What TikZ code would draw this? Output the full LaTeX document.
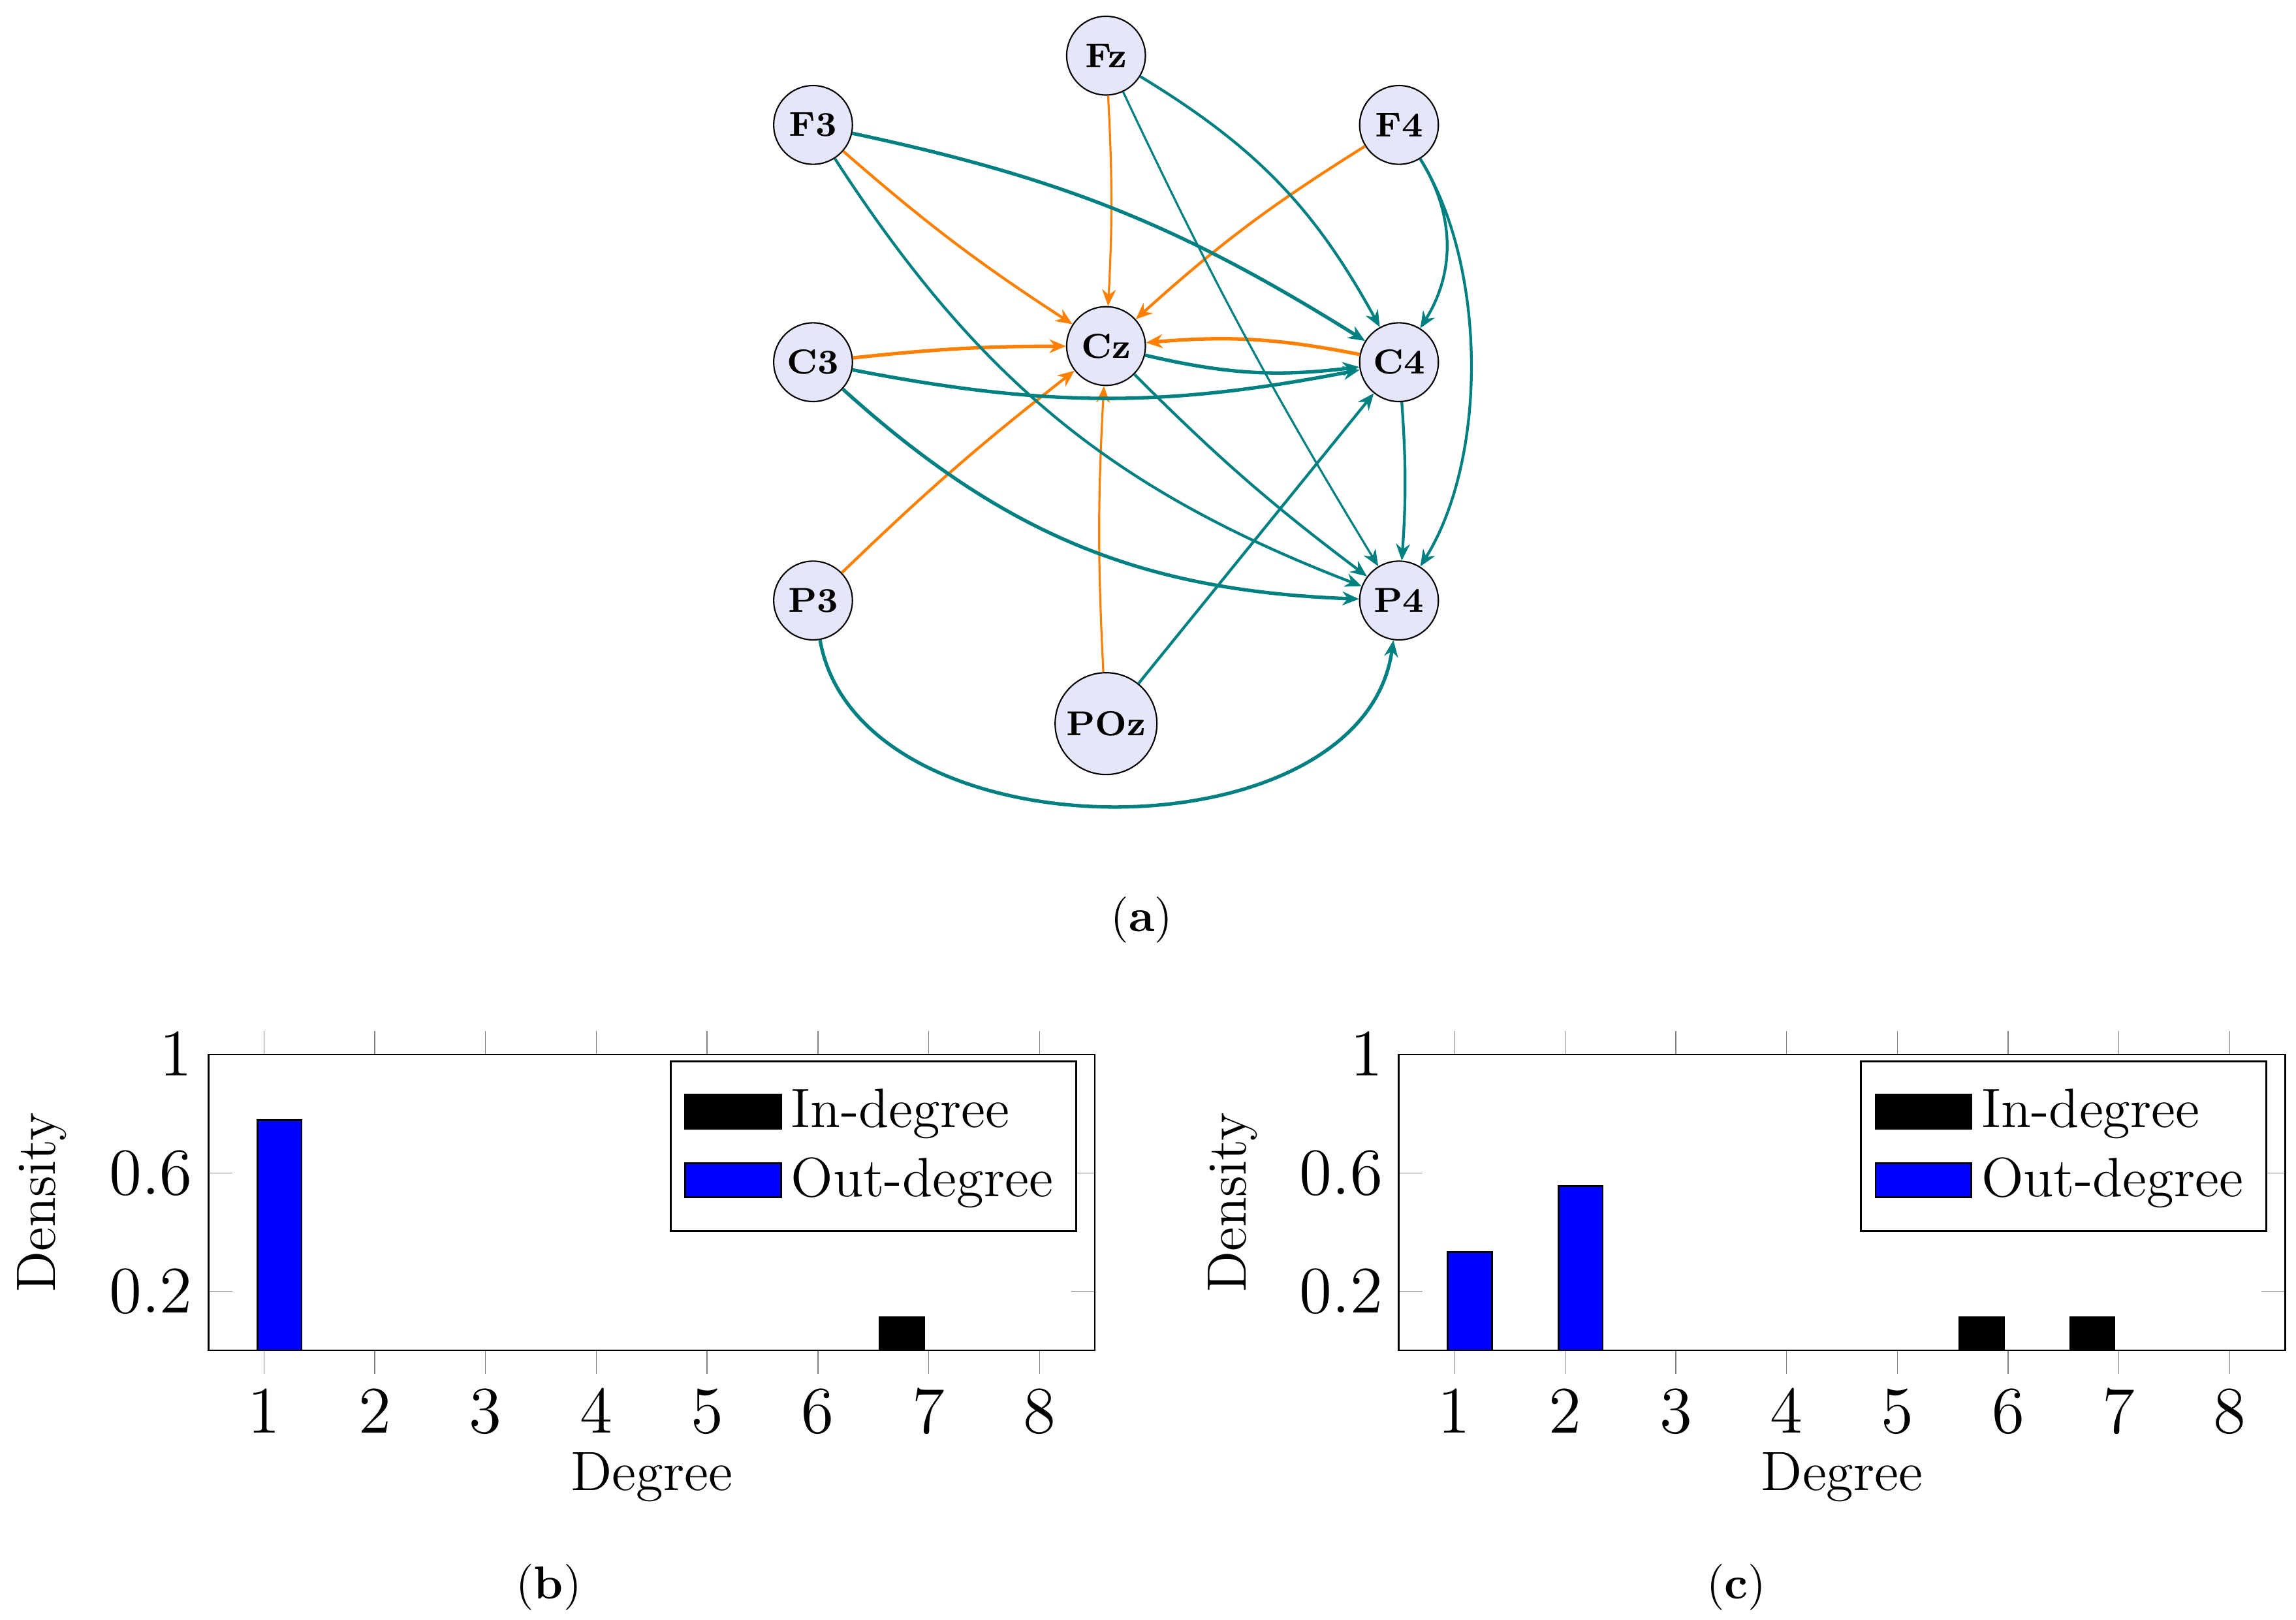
\documentclass[tikz,border=0pt]{standalone}
\usepackage{xcolor}
\usepackage{tikz}
\usepackage{pgfplots}
\pgfplotsset{compat=newest}
\usetikzlibrary{arrows.meta}
\definecolor{edgeteal}{HTML}{008080}
\definecolor{edgeorange}{HTML}{FF8000}
\definecolor{nodefill}{HTML}{E6E6FA}

\pgfplotsset{
  degbar/.style={draw=black,
    legend image code/.code={\draw[##1,/tikz/.cd] (0cm,-0.13cm) rectangle (0.73cm,0.13cm);}},
  degaxis/.style={scale only axis, width=6.755cm, height=2.254cm, anchor=south west,
    ybar, bar width=0.4, xmin=0.5, xmax=8.5, ymin=0, ymax=1,
    xtick={1,...,8}, ytick={0.2,0.6,1}, major tick length=0.18cm,
    tick label style={font=\fontsize{14}{16}\selectfont},
    label style={font=\fontsize{12}{14}\selectfont},
    xlabel={Degree}, ylabel={Density},
    xlabel style={at={(axis description cs:0.5,-0.4734)}, anchor=base},
    ylabel style={at={(axis description cs:-0.1728,0.5)}, anchor=base},
    legend cell align=left,
    legend style={font=\fontsize{12}{14}\selectfont, inner ysep=4pt, row sep=1pt}},
}

\begin{document}
\begin{tikzpicture}[>={Stealth[length=3.6pt,width=3pt]},
    electrode/.style={circle, draw=black, line width=0.3pt, fill=nodefill,
      minimum size=0.6cm, inner sep=1.6pt, font=\fontsize{7.5}{9}\selectfont\bfseries},
    tealarc/.style={->, draw=edgeteal},
    orangearc/.style={->, draw=edgeorange},
    heavy/.style={line width=0.75pt},
    medium/.style={line width=0.6pt},
    light/.style={line width=0.45pt},
    caption/.style={font=\fontsize{10}{12}\selectfont, anchor=base}]

    \useasboundingbox (0,0) rectangle (17.5,12.34);

    % (a) electrode graph, centred on the C row
    \begin{scope}[shift={(8.43,9.58)}]
      \node[electrode] (Fz) at (0,2.336) {Fz};
      \node[electrode] (F3) at (-2.233,1.808) {F3};
      \node[electrode] (F4) at (2.233,1.808) {F4};
      \node[electrode] (C3) at (-2.233,0) {C3};
      \node[electrode] (Cz) at (0,0.123) {Cz};
      \node[electrode] (C4) at (2.233,0) {C4};
      \node[electrode] (P3) at (-2.233,-1.816) {P3};
      \node[electrode] (P4) at (2.233,-1.816) {P4};
      \node[electrode] (POz) at (0,-2.754) {POz};
    \end{scope}

    % orange: everything going into Cz
    \draw[orangearc, medium] (F3) to[bend right=4] (Cz);
    \draw[orangearc, light] (Fz) to[bend left=3] (Cz);
    \draw[orangearc, medium] (F4) to[bend right=5] (Cz);
    \draw[orangearc, heavy] (C3) to[bend left=3] (Cz);
    \draw[orangearc, heavy] (C4) to[bend right=8] (Cz);
    \draw[orangearc, medium] (P3) to[bend left=3] (Cz);
    \draw[orangearc, light] (POz) to[bend left=3] (Cz);

    % teal: into C4 and P4
    \draw[tealarc, heavy] (F3) to[bend left=10] (C4);
    \draw[tealarc, medium] (F3) to[bend right=18] (P4);
    \draw[tealarc, medium] (Fz) to[bend left=15] (C4);
    \draw[tealarc, light] (Fz) to[bend right=3] (P4);
    \draw[tealarc, medium] (F4) to[bend left=32] (C4);
    \draw[tealarc, medium] (F4) to[bend left=32, looseness=0.8] (P4);
    \draw[tealarc, heavy] (C3) to[bend right=11] (C4);
    \draw[tealarc, heavy] (C3) to[bend right=20] (P4);
    \draw[tealarc, heavy] (Cz) to[bend right=10] (C4);
    \draw[tealarc, medium] (Cz) to[bend right=4] (P4);
    \draw[tealarc, medium] (C4) to[bend left=4] (P4);
    \draw[tealarc, medium] (POz) -- (C4);
    \draw[tealarc, heavy] (P3) to[out=-80, in=-98] (P4);

    \node[caption] (capa) at (8.703,5.241) {(\textbf{a})};

    % (b) degree distribution
    \begin{axis}[degaxis, name=degb, at={(1.59cm,2.05cm)}]
      \addplot[degbar, fill=black, bar shift=-0.24] coordinates {(7,0.111)};
      \addplot[degbar, fill=blue, bar shift=0.14] coordinates {(1,0.778)};
      \legend{In-degree, Out-degree}
    \end{axis}
    \node[caption] (capb) at (4.182,0.156) {(\textbf{b})};

    % (c) degree distribution
    \begin{axis}[degaxis, name=degc, at={(10.662cm,2.05cm)}]
      \addplot[degbar, fill=black, bar shift=-0.24] coordinates {(6,0.111) (7,0.111)};
      \addplot[degbar, fill=blue, bar shift=0.14] coordinates {(1,0.333) (2,0.556)};
      \legend{In-degree, Out-degree}
    \end{axis}
    \node[caption] (capc) at (13.234,0.156) {(\textbf{c})};

\end{tikzpicture}
\end{document}
